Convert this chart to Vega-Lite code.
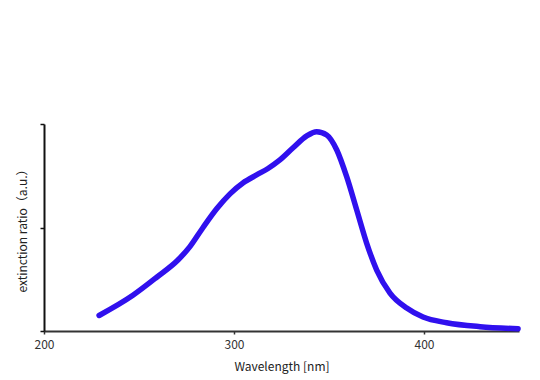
{
  "$schema": "https://vega.github.io/schema/vega-lite/v6.json",
  "width": 475,
  "height": 207,
  "autosize": {"type": "none"},
  "padding": {"left": 44, "top": 124, "right": 21, "bottom": 49},
  "background": "white",
  "config": {"view": {"stroke": null}},
  "data": {"values": [
    {"wl": 229.0, "v": 0.15},
    {"wl": 246.8, "v": 0.345},
    {"wl": 259.5, "v": 0.522},
    {"wl": 270.5, "v": 0.686},
    {"wl": 276.8, "v": 0.815},
    {"wl": 283.7, "v": 1.0},
    {"wl": 291.1, "v": 1.185},
    {"wl": 297.9, "v": 1.325},
    {"wl": 304.7, "v": 1.43},
    {"wl": 312.1, "v": 1.51},
    {"wl": 317.9, "v": 1.57},
    {"wl": 324.0, "v": 1.65},
    {"wl": 331.1, "v": 1.77},
    {"wl": 338.3, "v": 1.885},
    {"wl": 343.5, "v": 1.926},
    {"wl": 348.8, "v": 1.894},
    {"wl": 354.1, "v": 1.749},
    {"wl": 359.3, "v": 1.491},
    {"wl": 364.6, "v": 1.169},
    {"wl": 369.8, "v": 0.85},
    {"wl": 375.1, "v": 0.589},
    {"wl": 382.1, "v": 0.367},
    {"wl": 390.9, "v": 0.222},
    {"wl": 399.5, "v": 0.135},
    {"wl": 411.9, "v": 0.08},
    {"wl": 429.5, "v": 0.042},
    {"wl": 449.5, "v": 0.022}
  ]},
  "mark": {"type": "line", "interpolate": "monotone", "color": "#3010EE", "strokeWidth": 5.5, "strokeCap": "round"},
  "encoding": {
    "x": {
      "field": "wl", "type": "quantitative",
      "scale": {"domain": [200, 450], "nice": false},
      "axis": {
        "title": "Wavelength [nm]",
        "values": [200, 300, 400],
        "grid": false,
        "labelFlush": false,
        "domainColor": "#333333", "domainWidth": 2,
        "tickColor": "#333333", "tickSize": 3, "tickWidth": 1.5,
        "labelFont": "Noto Sans CJK JP", "labelFontSize": 12, "labelColor": "#333333", "labelPadding": 5,
        "titleFont": "Noto Sans CJK JP", "titleFontSize": 12, "titleFontWeight": "normal", "titleColor": "#222222", "titlePadding": 11
      }
    },
    "y": {
      "field": "v", "type": "quantitative",
      "scale": {"domain": [0, 2], "nice": false},
      "axis": {
        "title": "extinction ratio（a.u.）",
        "values": [0, 1, 2],
        "labels": false,
        "grid": false,
        "domainColor": "#111111", "domainWidth": 2,
        "tickColor": "#111111", "tickSize": 4, "tickWidth": 1.5,
        "titleFont": "Noto Sans CJK JP", "titleFontSize": 12, "titleFontWeight": "normal", "titleColor": "#222222", "titlePadding": 10
      }
    }
  }
}
